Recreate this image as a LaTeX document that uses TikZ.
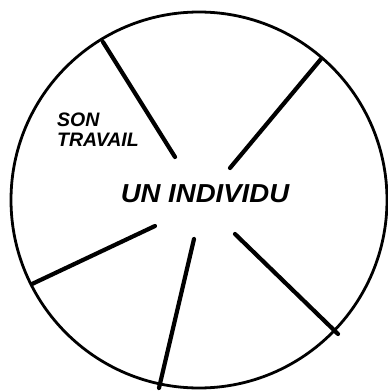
\documentclass[tikz,border=0pt]{standalone}
\usepackage{fontspec}
\setmainfont{Liberation Sans}
\begin{document}
\begin{tikzpicture}[x=1pt,y=-1pt,
  rim/.style={line width=2.8pt},
  spoke/.style={line width=4.2pt, line cap=round},
  label/.style={font=\bfseries\itshape\fontsize{19.5}{20}\selectfont, align=left, inner sep=0pt},
  title/.style={font=\bfseries\itshape\fontsize{26}{26}\selectfont, inner sep=0pt}]
\useasboundingbox (0,0) rectangle (388,391);
\coordinate (c) at (199,200);
\draw[rim] (c) circle (188);
\coordinate (i1) at (175,157);
\coordinate (o1) at (103,42);
\coordinate (i2) at (230,168);
\coordinate (o2) at (321,59);
\coordinate (i3) at (155,226);
\coordinate (o3) at (32,284);
\coordinate (i4) at (194,239);
\coordinate (o4) at (159,388);
\coordinate (i5) at (235,234);
\coordinate (o5) at (338,334);
\draw[spoke] (i1) -- (o1);
\draw[spoke] (i2) -- (o2);
\draw[spoke] (i3) -- (o3);
\draw[spoke] (i4) -- (o4);
\draw[spoke] (i5) -- (o5);
\node[label, anchor=north west] (work) at (57,113) {SON\\TRAVAIL};
\node[title, xscale=1.06] (ind) at (205,194) {UN INDIVIDU};
\end{tikzpicture}
\end{document}
